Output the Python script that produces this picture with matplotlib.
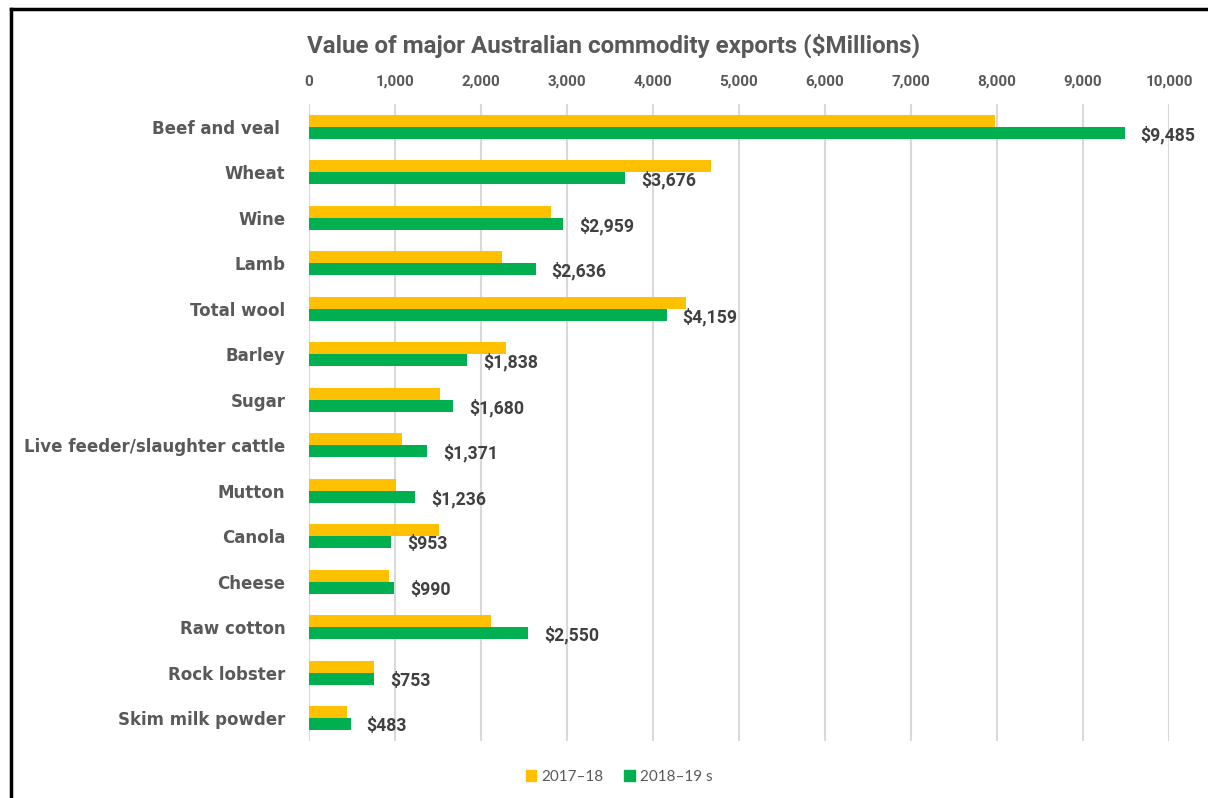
import matplotlib
matplotlib.use("Agg")
import matplotlib.pyplot as plt
import numpy as np
from matplotlib.lines import Line2D
from matplotlib.patches import Patch

categories = ["Beef and veal ", "Wheat", "Wine", "Lamb", "Total wool", "Barley", "Sugar",
              "Live feeder/slaughter cattle", "Mutton", "Canola", "Cheese", "Raw cotton",
              "Rock lobster", "Skim milk powder"]
values_2017_18 = [7980, 4670, 2815, 2245, 4380, 2290, 1527, 1082, 1008, 1515, 934, 2120, 756, 438]
values_2018_19 = [9485, 3676, 2959, 2636, 4159, 1838, 1680, 1371, 1236, 953, 990, 2550, 753, 483]
series_names = ["2017\u201318", "2018\u201319 s"]
xticks = [0, 1000, 2000, 3000, 4000, 5000, 6000, 7000, 8000, 9000, 10000]

YELLOW = "#FFC000"
GREEN = "#00B050"
GRAY = "#595959"
DARK = "#404040"
LATO = ["Lato", "DejaVu Sans"]
ROBOTO = ["Roboto", "DejaVu Sans"]

fig = plt.figure(figsize=(12.08, 7.98), dpi=100)
ax = fig.add_axes([309 / 1208, 57 / 798, 860 / 1208, 637 / 798])

y = np.arange(len(categories))
h = 0.265
ax.barh(y - h / 2, values_2017_18, height=h, color=YELLOW, zorder=3)
ax.barh(y + h / 2, values_2018_19, height=h, color=GREEN, zorder=3)

for yi, v in zip(y, values_2018_19):
    ax.annotate(f"${v:,.0f}", xy=(v, yi + h / 2), xytext=(16, -2), textcoords="offset pixels",
                ha="left", va="center", fontsize=12.7, fontweight="bold", color=DARK,
                family=ROBOTO)

ax.set_xlim(0, 10000)
ax.set_ylim(len(categories) - 0.5, -0.5)
ax.set_xticks(xticks)
ax.set_xticklabels([f"{t:,}" for t in xticks], fontsize=11, fontweight="bold", color=GRAY,
                   family=ROBOTO)
ax.xaxis.tick_top()
ax.tick_params(axis="x", length=0, pad=11)
ax.set_yticks(y)
ax.set_yticklabels(categories, fontsize=12, fontweight="bold", color=GRAY, family=["DejaVu Sans"])
ax.tick_params(axis="y", length=0, pad=17)
ax.grid(axis="x", color="#D9D9D9", linewidth=1.5, zorder=0)
for s in ax.spines.values():
    s.set_visible(False)

fig.text(614 / 1208, 1 - 46 / 798, "Value of major Australian commodity exports ($Millions)",
         ha="center", va="center", fontsize=17.4, fontweight="bold", color=GRAY,
         family=ROBOTO)

handles = [Patch(color=YELLOW), Patch(color=GREEN)]
fig.legend(handles, series_names, loc="center", bbox_to_anchor=(619 / 1208, 1 - 777 / 798),
           ncol=2, frameon=False, handlelength=0.7, handleheight=0.7,
           handletextpad=0.3, columnspacing=1.4, labelcolor=GRAY,
           prop={"family": LATO, "size": 11})

# frame lines (top and left)
fig.add_artist(Line2D([11 / 1208, 1.0], [1 - 9 / 798, 1 - 9 / 798], color="black", linewidth=2.5,
                      transform=fig.transFigure))
fig.add_artist(Line2D([11 / 1208, 11 / 1208], [0, 1 - 9 / 798], color="black", linewidth=2.5,
                      transform=fig.transFigure))

fig.savefig("out.png", dpi=100, facecolor="white")
